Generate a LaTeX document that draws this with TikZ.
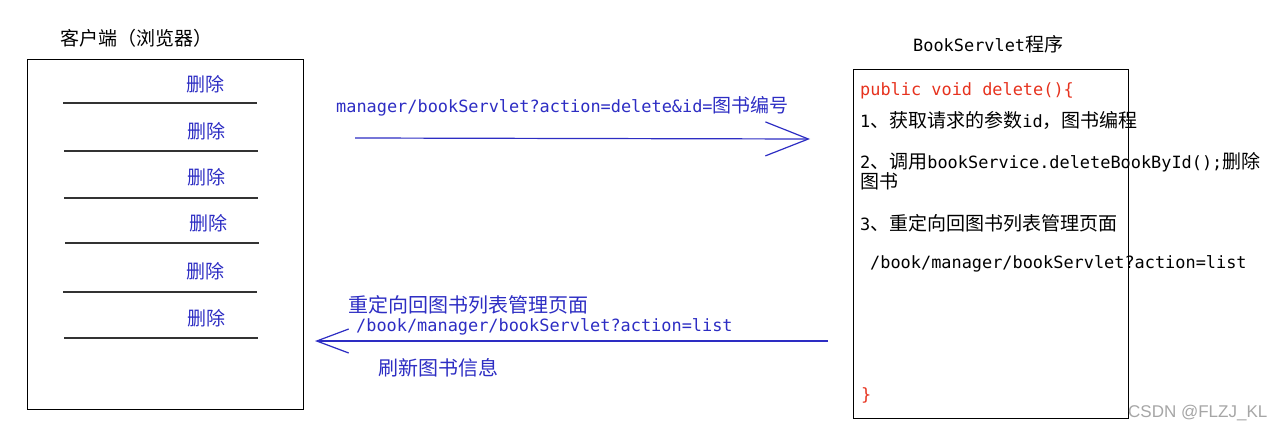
\documentclass[tikz,border=0pt]{standalone}
\usepackage{fontspec}
\newfontfamily\cjk{Noto Sans CJK SC}
\newfontfamily\mono{DejaVu Sans Mono}
\newfontfamily\wmfont{Liberation Sans}
\usetikzlibrary{arrows.meta}
\newcommand{\C}[1]{{\cjk\fontsize{19}{20}\selectfont #1}}
\newcommand{\CL}[1]{{\cjk\fontsize{20}{20}\selectfont #1}}
\newcommand{\M}[1]{{\mono\fontsize{16.9}{20}\selectfont #1}}
\definecolor{linkblue}{RGB}{45,45,195}
\definecolor{codered}{RGB}{230,50,30}
\begin{document}
\begin{tikzpicture}[x=1pt,y=-1pt,
  box/.style={draw=black,line width=1.4pt,inner sep=0pt,anchor=north west},
  sep/.style={draw=black!80,line width=1.3pt},
  lbl/.style={inner sep=0pt,anchor=west,font=\fontsize{17}{20}\selectfont},
  del/.style={inner sep=0pt,text=linkblue},
  conn/.style={draw=linkblue,line width=1.2pt},
]
\useasboundingbox (0,0) rectangle (1286,433);

% client (browser)
\node[lbl] (ctitle) at (60,38) {\C{客户端（浏览器）}};
\node[box,minimum width=276pt,minimum height=350pt] (client) at (27,59) {};
\draw[sep] (63,103) -- (257,103);
\draw[sep] (64,151) -- (258,151);
\draw[sep] (64,198) -- (258,198);
\draw[sep] (65,243) -- (259,243);
\draw[sep] (63,292) -- (257,292);
\draw[sep] (64,338) -- (258,338);
\node[del] (d1) at (205,84) {\C{删除}};
\node[del] (d2) at (206,131) {\C{删除}};
\node[del] (d3) at (206,177) {\C{删除}};
\node[del] (d4) at (208,223) {\C{删除}};
\node[del] (d5) at (205,271) {\C{删除}};
\node[del] (d6) at (206,318) {\C{删除}};

% servlet
\node[lbl] (stitle) at (913,44) {\M{BookServlet}\C{程序}};
\node[box,minimum width=275pt,minimum height=349pt] (servlet) at (853,69) {};
\node[lbl,text=codered] (s0) at (860,91) {\M{public void delete()\{}};
\node[lbl] (s1) at (860,120) {\M{1}\C{、获取请求的参数}\M{id}\C{，图书编程}};
\node[lbl,align=left] (s2) at (860,171) {\M{2}\C{、调用}\M{bookService.deleteBookById();}\C{删除}\\\C{图书}};
\node[lbl] (s3) at (860,223) {\M{3}\C{、重定向回图书列表管理页面}};
\node[lbl] (s4) at (870,264) {\M{/book/manager/bookServlet?action=list}};
\node[lbl,text=codered] (s5) at (861,395) {\M{\}}};

% request arrow
\node[lbl,text=linkblue] (reqlbl) at (336,106) {\M{manager/bookServlet?action=delete\&id=}\C{图书编号}};
\coordinate (reqS) at (355,138);
\coordinate (reqT) at (810,139);
\draw[conn,-{Straight Barb[length=43pt,width=34pt]}] (reqS) -- (reqT);

% response arrow
\node[lbl,text=linkblue] (reslbl1) at (348,305) {\CL{重定向回图书列表管理页面}};
\node[lbl,text=linkblue] (reslbl2) at (356,327) {\M{/book/manager/bookServlet?action=list}};
\node[lbl,text=linkblue] (reslbl3) at (378,368) {\CL{刷新图书信息}};
\coordinate (resS) at (828,341);
\coordinate (resT) at (315,341);
\draw[conn,-{Straight Barb[length=32pt,width=24pt]}] (resS) -- (resT);

% watermark
\node[lbl,text=black!35] (wm) at (1128,413) {\wmfont\fontsize{17}{20}\selectfont CSDN @FLZJ\_KL};
\end{tikzpicture}
\end{document}
